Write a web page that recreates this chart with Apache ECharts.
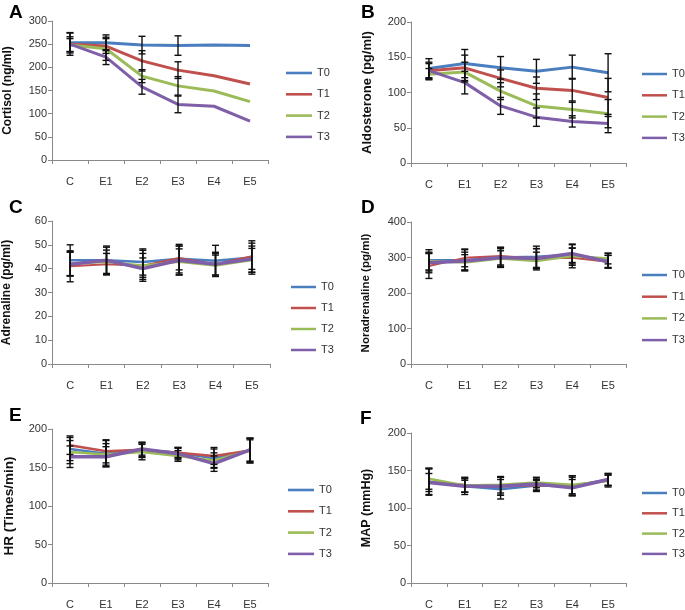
<!DOCTYPE html>
<html><head><meta charset="utf-8">
<script src="https://cdn.jsdelivr.net/npm/echarts@6/dist/echarts.min.js"></script>
<style>html,body{margin:0;padding:0;background:#fff}#c{width:685px;height:610px}</style>
</head><body><div id="c"></div>
<script>
const cats = ['C','E1','E2','E3','E4','E5'];
const groups = ['T0','T1','T2','T3'];
const colors = ['#4a7ebf','#c0504d','#9bbb59','#7f5fa8'];

// Panel A: Cortisol (ng/ml)
const cortisol = [[253,253,248,247,248,247],[250,246,214,194,182,164],[248,240,181,160,149,126],[250,222,158,120,116,84]];
const cortisolErr = [[22,17,19,21,null,null],[16,16,22,18,null,null],[14,25,14,20,null,null],[24,16,16,18,null,null]];
// Panel B: Aldosterone (pg/ml)
const aldosterone = [[134,141,135,130,136,128],[131,135,120,106,103,93],[126,129,102,81,76,70],[131,114,81,65,59,56]];
const aldosteroneErr = [[14,20,16,17,17,27],[10,18,12,16,17,27],[8,14,12,17,12,20],[12,16,12,13,8,13]];
// Panel C: Adrenaline (pg/ml)
const adrenaline = [[43.5,43.5,42.8,44.2,43.3,44.7],[41,41.9,41.2,44.5,41.9,45.2],[42.1,42.8,41.4,42.8,41.2,43.5],[41.9,43.5,40,43.5,41.9,44]];
const adrenalineErr = [[6.5,6,5.5,6,6.5,7],[6.5,4.5,6.5,5,5,5.5],[5,5,5,5.5,4.5,5],[5,5.5,4.5,6,4.5,5.5]];
// Panel D: Noradrenaline (pg/ml)
const noradrenaline = [[292,292,300,302,308,292],[276,299,304,297,299,288],[290,286,297,290,304,297],[285,290,300,297,311,288]];
const noradrenalineErr = [[30,30,28,30,30,20],[35,25,25,28,28,18],[25,22,22,25,22,15],[28,25,25,28,25,18]];
// Panel E: HR (Times/min)
const hr = [[174,168,173,169,162,172],[179,171,173,169,165,172],[170,167,170,165,159,172],[164,164,174,168,155,173]];
const hrErr = [[15,17,10,7,12,16],[12,15,9,6,11,16],[15,14,10,7,10,14],[14,13,8,8,10,15]];
// Panel F: MAP (mmHg)
const mapv = [[135,129,125,130,129,138],[135,131,129,130,130,137],[139,130,131,134,131,136],[134,129,129,132,127,138]];
const mapErr = [[17,11,13,8,12,8],[18,10,12,7,13,7],[14,9,11,7,12,8],[12,8,12,8,11,8]];

const panels = [
  {letter:'A', title:'Cortisol (ng/ml)', vals:cortisol, errs:cortisolErr, max:300, step:50,
   grid:{left:52,top:21,width:216,height:139}, nameGap:38, nameFont:12,
   legend:{left:286,top:66,gap:7.3,w:26}, lw:[3,3,3,3], lx:9, ly:3},
  {letter:'B', title:'Aldosterone (pg/ml)', vals:aldosterone, errs:aldosteroneErr, max:200, step:50,
   grid:{left:411,top:22,width:215,height:141}, nameGap:37, nameFont:13,
   legend:{left:642,top:67,gap:7.3,w:25}, lw:[3,3,3,3], lx:361, ly:3},
  {letter:'C', title:'Adrenaline (pg/ml)', vals:adrenaline, errs:adrenalineErr, max:60, step:10,
   grid:{left:52,top:221,width:218,height:143}, nameGap:39, nameFont:12,
   legend:{left:291,top:280,gap:7,w:25}, lw:[2.5,2,2,3.5], lx:9, ly:198},
  {letter:'D', title:'Noradrenaline (pg/ml)', vals:noradrenaline, errs:noradrenalineErr, max:400, step:100,
   grid:{left:411,top:222,width:215,height:142}, nameGap:39, nameFont:11.5,
   legend:{left:642,top:268,gap:7.7,w:25}, lw:[2.5,2,2.5,3.5], lx:361, ly:198},
  {letter:'E', title:'HR (Times/min)', vals:hr, errs:hrErr, max:200, step:50,
   grid:{left:52,top:429,width:216,height:156}, nameGap:36, nameFont:13.5,
   legend:{left:288,top:483,gap:7.3,w:26}, lw:[2.5,2.5,2.5,3.5], lx:9, ly:406},
  {letter:'F', title:'MAP (mmHg)', vals:mapv, errs:mapErr, max:200, step:50,
   grid:{left:411,top:433,width:215,height:152}, nameGap:38, nameFont:12.5,
   legend:{left:642,top:486,gap:6.3,w:25}, lw:[2.5,2,2.5,3.5], lx:360, ly:409}
];

const FONT = 'Liberation Sans, Arial, sans-serif';
const grids = [], xAxes = [], yAxes = [], series = [], legends = [], graphics = [];

function renderErr(params, api) {
  const x = api.value(0);
  const pLo = api.coord([x, api.value(1)]);
  const pHi = api.coord([x, api.value(2)]);
  const w = 3.5;
  const st = {stroke:'#111', lineWidth:1.4};
  return {type:'group', children:[
    {type:'line', shape:{x1:pLo[0],y1:pLo[1],x2:pHi[0],y2:pHi[1]}, style:st},
    {type:'line', shape:{x1:pLo[0]-w,y1:pLo[1],x2:pLo[0]+w,y2:pLo[1]}, style:st},
    {type:'line', shape:{x1:pHi[0]-w,y1:pHi[1],x2:pHi[0]+w,y2:pHi[1]}, style:st}
  ]};
}

panels.forEach((p, k) => {
  grids.push(Object.assign({containLabel:false}, p.grid));
  xAxes.push({type:'category', gridIndex:k, data:cats, boundaryGap:true,
    axisLine:{lineStyle:{color:'#8a8a8a', width:1}},
    axisTick:{show:true, length:4, lineStyle:{color:'#8a8a8a'}},
    axisLabel:{color:'#333', fontSize:11, fontFamily:FONT, margin:16},
    splitLine:{show:false}});
  yAxes.push({type:'value', gridIndex:k, min:0, max:p.max, interval:p.step,
    name:p.title, nameLocation:'middle', nameGap:p.nameGap,
    nameTextStyle:{fontSize:p.nameFont, fontWeight:'bold', color:'#111', fontFamily:FONT},
    axisLine:{show:true, lineStyle:{color:'#8a8a8a'}},
    axisTick:{show:true, length:4, lineStyle:{color:'#8a8a8a'}},
    axisLabel:{color:'#333', fontSize:11, fontFamily:FONT, margin:5},
    splitLine:{show:false}});
  groups.forEach((g, i) => {
    series.push({type:'line', name:g, xAxisIndex:k, yAxisIndex:k, data:p.vals[i],
      symbol:'none', color:colors[i], lineStyle:{color:colors[i], width:p.lw[i]}, z:2, animation:false});
  });
  const errData = [];
  groups.forEach((g, i) => {
    p.vals[i].forEach((v, j) => {
      const e = p.errs[i][j];
      if (e != null) errData.push([j, v - e, v + e]);
    });
  });
  series.push({type:'custom', name:'err'+k, xAxisIndex:k, yAxisIndex:k, data:errData,
    renderItem:renderErr, encode:{x:0, y:[1,2]}, z:5, animation:false, silent:true});
  legends.push({data:groups, orient:'vertical', left:p.legend.left, top:p.legend.top, padding:0,
    itemWidth:p.legend.w, itemHeight:3, itemGap:p.legend.gap, selectedMode:false,
    icon:'path://M0,0 L30,0 L30,3 L0,3 Z',
    textStyle:{fontSize:11, color:'#333', fontFamily:FONT, lineHeight:14}});
  graphics.push({type:'text', left:p.lx, top:p.ly,
    style:{text:p.letter, font:'bold 19px ' + FONT, fill:'#000'}});
});

const chart = echarts.init(document.getElementById('c'), null, {renderer:'canvas'});
chart.setOption({animation:false, backgroundColor:'#fff', grid:grids, xAxis:xAxes, yAxis:yAxes,
  series:series, legend:legends, graphic:graphics});
</script></body></html>
